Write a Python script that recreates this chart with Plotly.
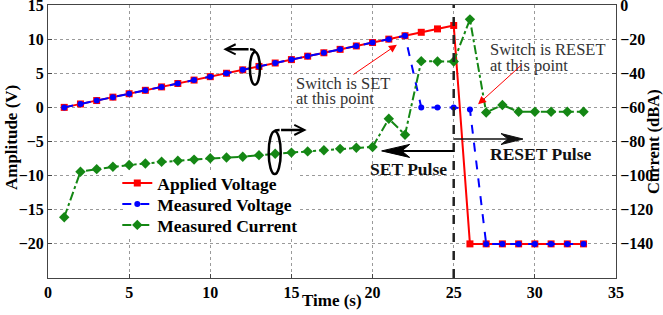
import plotly.graph_objects as go

# ---------------- data ----------------
time_s = list(range(1, 34))
applied_voltage = [0.0, 0.5, 1.0, 1.5, 2.0, 2.5, 3.0, 3.5, 4.0, 4.5, 5.0, 5.5, 6.0,
                   6.5, 7.0, 7.5, 8.0, 8.5, 9.0, 9.5, 10.0, 10.5, 11.0, 11.5, 12.0,
                   -20, -20, -20, -20, -20, -20, -20, -20]
measured_voltage = [0.0, 0.5, 1.0, 1.5, 2.0, 2.5, 3.0, 3.5, 4.0, 4.5, 5.0, 5.5, 6.0,
                    6.5, 7.0, 7.5, 8.0, 8.5, 9.0, 9.5, 10.0, 10.5, 0.0, 0.0, 0.0,
                    -0.3, -20, -20, -20, -20, -20, -20, -20]
measured_current = [-124.4, -97.7, -96.2, -94.8, -93.8, -92.9, -91.9, -91.3, -90.6,
                    -89.8, -89.4, -88.9, -88.0, -87.2, -86.5, -85.8, -85.1, -84.3,
                    -83.7, -83.2, -66.7, -76.0, -32.9, -33.1, -33.1, -8.4, -63.0,
                    -58.6, -62.6, -62.6, -62.6, -62.6, -62.6]

x_ticks = [0, 5, 10, 15, 20, 25, 30, 35]
left_ticks = [15, 10, 5, 0, -5, -10, -15, -20]
right_ticks = [0, -20, -40, -60, -80, -100, -120, -140]

X_RANGE = [0, 35]
Y_RANGE = [-25, 15]
Y2_RANGE = [-160, 0]

FONT = "Liberation Serif"
RED = "rgb(255,0,0)"
BLUE = "rgb(0,0,255)"
GREEN = "rgb(20,135,20)"

W, H = 663, 315
ML, MR, MT, MB = 48, 47, 5, 37
PX_X = (W - ML - MR) / (X_RANGE[1] - X_RANGE[0])   # pixels per x unit
PX_Y = (H - MT - MB) / (Y_RANGE[1] - Y_RANGE[0])   # pixels per left-y unit


def dx(px):
    return px / PX_X


def dy(py):
    return py / PX_Y


def data_x(px):
    return X_RANGE[0] + (px - ML) / PX_X


def data_y(py):
    return Y_RANGE[1] - (py - MT) / PX_Y


fig = go.Figure()
fig.add_trace(go.Scatter(
    x=time_s, y=applied_voltage, name="Applied Voltage", mode="lines+markers",
    line=dict(color=RED, width=2),
    marker=dict(symbol="square", size=7, color=RED),
    legend="legend",
))
fig.add_trace(go.Scatter(
    x=time_s, y=measured_voltage, name="Measured Voltage", mode="lines+markers",
    line=dict(color=BLUE, width=2, dash="dash"),
    marker=dict(symbol="circle", size=6, color=BLUE),
    legend="legend2",
))
fig.add_trace(go.Scatter(
    x=time_s, y=measured_current, name="Measured Current", mode="lines+markers",
    yaxis="y2",
    line=dict(color=GREEN, width=2, dash="dashdot"),
    marker=dict(symbol="diamond", size=8, color=GREEN),
    legend="legend3",
))

axis_common = dict(
    showline=True, linecolor="#444", linewidth=1,
    ticks="inside", ticklen=4, tickcolor="#444",
    tickfont=dict(family=FONT, size=16, color="black", weight="bold"),
    zeroline=False, automargin=False, ticklabeloverflow="allow",
)

leg_font = dict(family=FONT, size=17.5, color="black", weight="bold")


def legend_at(py):
    return dict(x=0.122, y=(H - MB - py) / (H - MT - MB), xanchor="left",
                yanchor="middle", bgcolor="rgba(0,0,0,0)", borderwidth=0,
                font=leg_font)


fig.update_layout(
    width=W, height=H,
    margin=dict(l=ML, r=MR, t=MT, b=MB),
    paper_bgcolor="white", plot_bgcolor="white",
    showlegend=True,
    legend=legend_at(183),
    legend2=legend_at(204),
    legend3=legend_at(225),
    xaxis=dict(
        range=X_RANGE, tickvals=x_ticks, mirror=True,
        showgrid=True, gridcolor="#9a9a9a", griddash="dot", gridwidth=1,
        **axis_common,
    ),
    yaxis=dict(
        range=Y_RANGE, tickvals=left_ticks,
        showgrid=True, gridcolor="#9a9a9a", griddash="dot", gridwidth=1,
        **axis_common,
    ),
    yaxis2=dict(
        range=Y2_RANGE, tickvals=right_ticks, overlaying="y", side="right",
        showgrid=False,
        **axis_common,
    ),
)

# white legend box hiding the grid behind the legend
fig.add_shape(type="rect", xref="x", yref="y", layer="between",
              x0=data_x(125), x1=data_x(298), y0=data_y(236), y1=data_y(171),
              fillcolor="white", line=dict(width=0))

# axis titles (placed as in the reference, overlapping the tick row)
title_font = dict(family=FONT, size=17, color="black", weight="bold")
fig.add_annotation(text="Time (s)", xref="paper", yref="paper", x=0.5, y=-0.083,
                   yanchor="middle", showarrow=False, font=title_font)
fig.add_annotation(text="Amplitude (V)", xref="paper", yref="paper", x=-0.064, y=0.515,
                   xanchor="center", yanchor="middle", textangle=-90,
                   showarrow=False, font=title_font)
fig.add_annotation(text="Current (dBA)", xref="paper", yref="paper", x=1.066, y=0.5,
                   xanchor="center", yanchor="middle", textangle=-90,
                   showarrow=False,
                   font=dict(family=FONT, size=16.5, color="black", weight="bold"))

# vertical dashed line at the SET/RESET boundary
fig.add_shape(type="line", xref="x", yref="paper", x0=25, x1=25, y0=0, y1=1,
              line=dict(color="#222", width=2.5, dash="dash"))


def arrow_head(tip_x, tip_y, length_px, half_h_px, notch_px, direction, color):
    """Filled, notched arrowhead drawn as a path in data coordinates."""
    L = dx(length_px) * direction
    N = dx(notch_px) * direction
    h = dy(half_h_px)
    path = (f"M {tip_x},{tip_y} L {tip_x + L},{tip_y + h} "
            f"L {tip_x + N},{tip_y} L {tip_x + L},{tip_y - h} Z")
    fig.add_shape(type="path", xref="x", yref="y", path=path,
                  fillcolor=color, line=dict(color=color, width=1))


# SET pulse arrow (points left)
SET_Y = -6.38
fig.add_shape(type="line", xref="x", yref="y", x0=25, x1=21.6, y0=SET_Y, y1=SET_Y,
              line=dict(color="black", width=2))
arrow_head(20.56, SET_Y, 28, 6.5, 20, 1, "black")
label_font = dict(family=FONT, size=17.5, color="#111", weight="bold")
fig.add_annotation(x=22.24, y=-9.0, xref="x", yref="y", text="SET Pulse",
                   showarrow=False, font=label_font)

# RESET pulse arrow (points right)
RESET_Y = -4.64
fig.add_shape(type="line", xref="x", yref="y", x0=25, x1=28.3, y0=RESET_Y, y1=RESET_Y,
              line=dict(color="#111", width=1.5))
arrow_head(29.27, RESET_Y, 22, 5.5, 15, -1, "#111")
fig.add_annotation(x=30.4, y=-6.82, xref="x", yref="y", text="RESET Pulse",
                   showarrow=False, font=label_font)

# "Switch is ..." callouts (one annotation per line for tight spacing)
note_font = dict(family=FONT, size=16.5, color="#333")
for txt, py in (("Switch is SET", 83), ("at this point", 98.5)):
    fig.add_annotation(x=15.16, y=data_y(py), xref="x", yref="y", xanchor="left",
                       text=txt, showarrow=False, font=note_font)
fig.add_annotation(x=21.5, y=9.18, ax=18.73, ay=4.67, xref="x", yref="y",
                   axref="x", ayref="y", text="", showarrow=True,
                   arrowhead=2, arrowwidth=1, arrowsize=1.6, arrowcolor=RED)
for txt, py in (("Switch is RESET", 49.5), ("at this point", 65)):
    fig.add_annotation(x=27.11, y=data_y(py), xref="x", yref="y", xanchor="left",
                       text=txt, showarrow=False, font=note_font)
fig.add_annotation(x=26.5, y=0.45, ax=29.27, ay=6.42, xref="x", yref="y",
                   axref="x", ayref="y", text="", showarrow=True,
                   arrowhead=2, arrowwidth=1, arrowsize=1.6, arrowcolor=RED)

# axis-indicator bent arrows with ellipses
fig.add_shape(type="circle", xref="x", yref="y", x0=12.44, x1=13.06, y0=3.33, y1=8.13,
              line=dict(color="black", width=2.5))
fig.add_shape(type="path", xref="x", yref="y",
              path="M 12.75,8.13 Q 12.75,8.5 12.45,8.5",
              line=dict(color="black", width=2.5))
fig.add_annotation(x=10.8, y=8.5, ax=12.45, ay=8.5, xref="x", yref="y",
                   axref="x", ayref="y", text="", showarrow=True,
                   arrowhead=5, arrowwidth=2.5, arrowsize=0.8, arrowcolor="black")

fig.add_shape(type="circle", xref="x", yref="y", x0=13.6, x1=14.34, y0=-9.78, y1=-3.48,
              line=dict(color="black", width=2.5))
fig.add_shape(type="path", xref="x", yref="y",
              path="M 13.97,-3.48 Q 13.97,-3.3 14.27,-3.3",
              line=dict(color="black", width=2.5))
fig.add_annotation(x=15.94, y=-3.3, ax=14.27, ay=-3.3, xref="x", yref="y",
                   axref="x", ayref="y", text="", showarrow=True,
                   arrowhead=5, arrowwidth=2.5, arrowsize=0.8, arrowcolor="black")

# remove the browser's default 8px body margin so the figure sits at (0, 0)
fig.write_html(
    "out.html",
    config={"displayModeBar": False},
    post_script="document.body.style.margin='0';document.body.style.overflow='hidden';",
)
